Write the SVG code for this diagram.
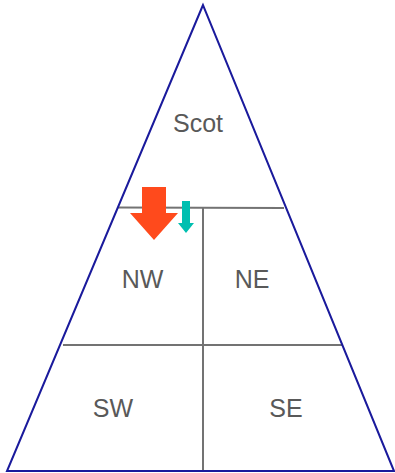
<svg xmlns="http://www.w3.org/2000/svg" width="395" height="473" viewBox="0 0 395 473">
<style>
.lbl{font-family:"Liberation Sans",Arial,sans-serif;font-size:25px;fill:#595959;text-anchor:middle}
.div{stroke:#737373;stroke-width:2;fill:none}
</style>
<rect width="395" height="473" fill="#ffffff"/>
<g id="connectors">
<line class="div" x1="118" y1="207.5" x2="284" y2="208"/>
<line class="div" x1="63" y1="345" x2="342" y2="345"/>
<line class="div" x1="203" y1="208" x2="203" y2="471"/>
</g>
<g id="triangle">
<polygon points="203,5 7,471 394,471" fill="none" stroke="#1a1a9c" stroke-width="2"/>
</g>
<g id="scot"><text class="lbl" x="198" y="132">Scot</text></g>
<g id="nw"><text class="lbl" x="142.5" y="288">NW</text></g>
<g id="ne"><text class="lbl" x="252" y="288">NE</text></g>
<g id="sw"><text class="lbl" x="113" y="417">SW</text></g>
<g id="se"><text class="lbl" x="286" y="417">SE</text></g>
<g id="red-arrow">
<polygon points="142,187 166,187 166,213 178,213 154,240 130,213 142,213" fill="#ff4a1c"/>
</g>
<g id="teal-arrow">
<polygon points="182,201 190,201 190,223 194,223 186,233 178,223 182,223" fill="#00bfb0"/>
</g>
</svg>
